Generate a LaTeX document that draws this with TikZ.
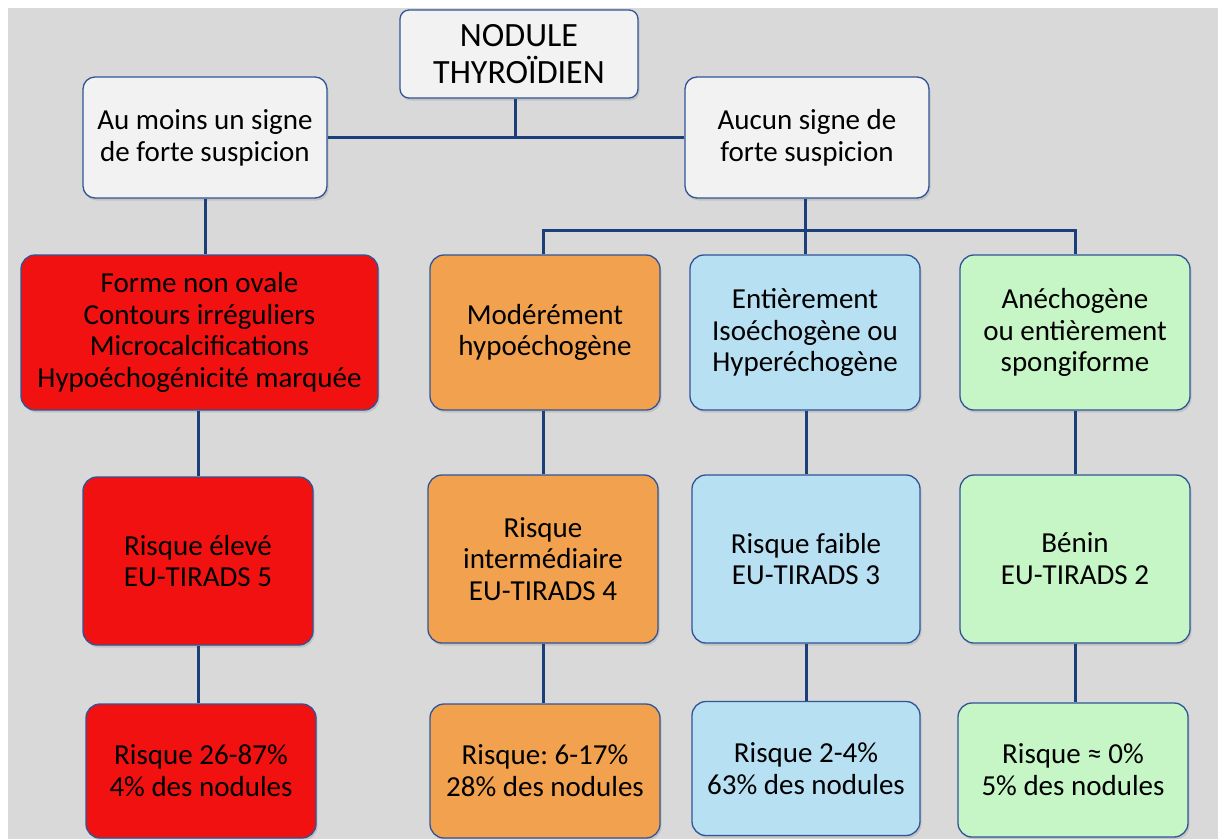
\documentclass[tikz,border=0pt]{standalone}
\usepackage{fontspec}
\setmainfont{Carlito}
\usetikzlibrary{shadows}
\definecolor{bgGray}{HTML}{D9D9D9}
\definecolor{boxLine}{HTML}{2F5597}
\definecolor{linkBlue}{HTML}{1B3F78}
\definecolor{paleWhite}{HTML}{F2F2F2}
\definecolor{hotRed}{HTML}{F21111}
\definecolor{midOrange}{HTML}{F2A14E}
\definecolor{softBlue}{HTML}{B8E0F3}
\definecolor{softGreen}{HTML}{C6F5C6}
\frenchspacing
\tikzset{
  card/.style={draw=boxLine, line width=1.3pt, rounded corners=14pt, align=center,
    inner sep=0pt, font=\fontsize{29}{31.8}\selectfont,
    drop shadow={shadow xshift=1.5pt, shadow yshift=-2.5pt, opacity=0.25}},
  link/.style={draw=linkBlue, line width=3pt}
}
\begin{document}
\begin{tikzpicture}[x=1pt,y=-1pt]
\useasboundingbox (0,0) rectangle (1218,839);
\fill[white] (0,0) rectangle (1218,839);
\fill[bgGray] (8,8) rectangle (1218,839);

\coordinate (hub) at (515,137.5);
\coordinate (bus) at (805,230);

\node[card, fill=paleWhite, rounded corners=9pt, minimum width=238pt, minimum height=88pt,
  font=\fontsize{34}{37}\selectfont] (nodule) at (519,54) {NODULE\\THYROÏDIEN};
\node[card, fill=paleWhite, rounded corners=12pt, minimum width=244pt, minimum height=121pt]
  (strong) at (205,137.5) {Au moins un signe\\de forte suspicion};
\node[card, fill=paleWhite, rounded corners=12pt, minimum width=244pt, minimum height=121pt]
  (weak) at (807,137.5) {Aucun signe de\\forte suspicion};

\node[card, fill=hotRed, minimum width=357pt, minimum height=155pt] (signs5) at (199.5,332.5)
  {Forme non ovale\\Contours irréguliers\\Microcalcifications\\Hypoéchogénicité marquée};
\node[card, fill=midOrange, minimum width=230pt, minimum height=155pt] (signs4) at (545,332.5)
  {Modérément\\hypoéchogène};
\node[card, fill=softBlue, minimum width=230pt, minimum height=155pt] (signs3) at (805,332.5)
  {Entièrement\\Isoéchogène ou\\Hyperéchogène};
\node[card, fill=softGreen, minimum width=230pt, minimum height=155pt] (signs2) at (1075,332.5)
  {Anéchogène\\ou entièrement\\spongiforme};

\node[card, fill=hotRed, minimum width=230pt, minimum height=168pt] (class5) at (198,561)
  {Risque élevé\\EU-TIRADS 5};
\node[card, fill=midOrange, minimum width=230pt, minimum height=168pt] (class4) at (543,559)
  {Risque\\intermédiaire\\EU-TIRADS 4};
\node[card, fill=softBlue, minimum width=228pt, minimum height=168pt] (class3) at (806,559)
  {Risque faible\\EU-TIRADS 3};
\node[card, fill=softGreen, minimum width=230pt, minimum height=168pt] (class2) at (1075,559)
  {Bénin\\EU-TIRADS 2};

\node[card, fill=hotRed, minimum width=230pt, minimum height=134pt] (rate5) at (201,771)
  {Risque 26-87\%\\4\% des nodules};
\node[card, fill=midOrange, minimum width=230pt, minimum height=134pt] (rate4) at (545,771)
  {Risque: 6-17\%\\28\% des nodules};
\node[card, fill=softBlue, minimum width=228pt, minimum height=134pt] (rate3) at (806,768.5)
  {Risque 2-4\%\\63\% des nodules};
\node[card, fill=softGreen, minimum width=230pt, minimum height=134pt] (rate2) at (1073,770)
  {Risque ≈ 0\%\\5\% des nodules};

\draw[link] (hub |- nodule.south) -- (hub);
\draw[link] (strong.east) -- (weak.west);
\draw[link] (strong.south) -- (strong.south |- signs5.north);
\draw[link] (weak.south -| bus) -- (bus);
\draw[link] (signs4.north -| class4) |- (bus) -| (signs2.north -| class2);
\draw[link] (bus) -- (signs3.north);
\draw[link] (class5.north |- signs5.south) -- (class5.north);
\draw[link] (class4.north |- signs4.south) -- (class4.north);
\draw[link] (class3.north |- signs3.south) -- (class3.north);
\draw[link] (class2.north |- signs2.south) -- (class2.north);
\draw[link] (class5.south) -- (class5.south |- rate5.north);
\draw[link] (class4.south) -- (class4.south |- rate4.north);
\draw[link] (class3.south) -- (class3.south |- rate3.north);
\draw[link] (class2.south) -- (class2.south |- rate2.north);
\end{tikzpicture}
\end{document}
